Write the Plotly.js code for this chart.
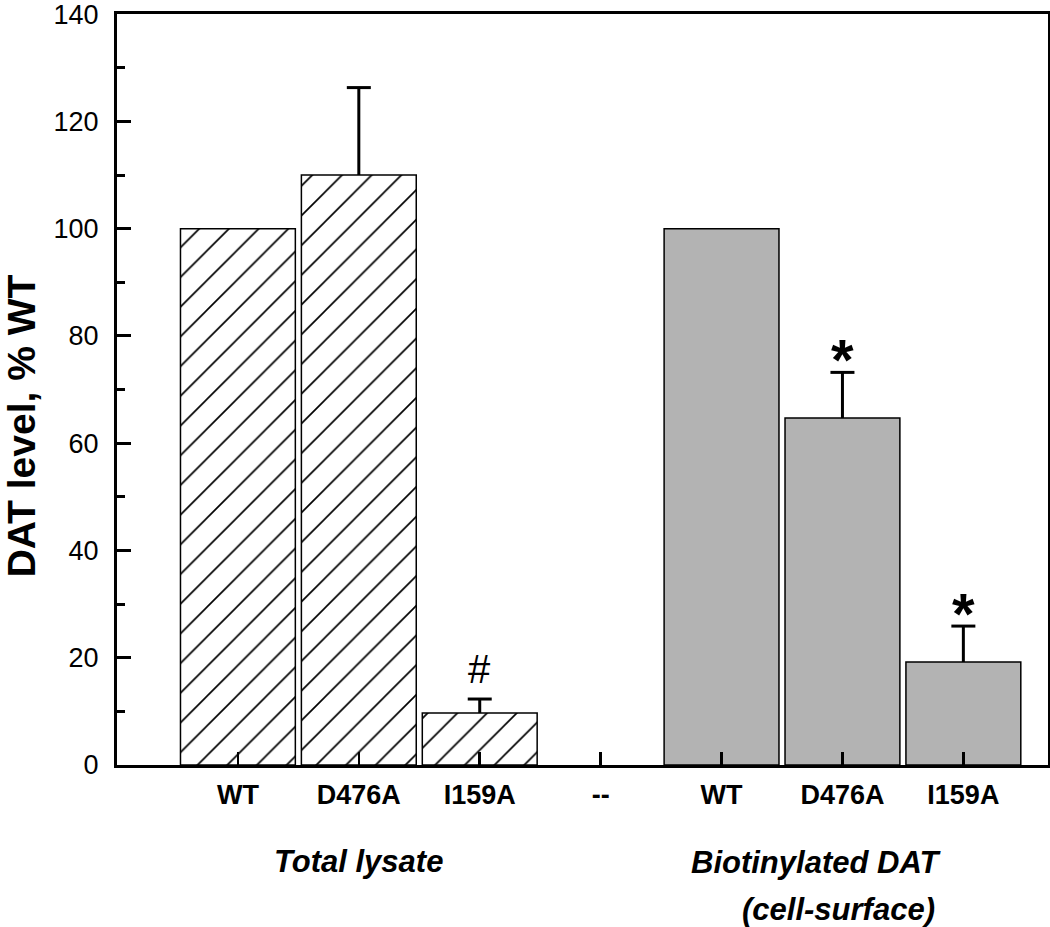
<!DOCTYPE html>
<html>
<head>
<meta charset="utf-8">
<script src="https://cdn.plot.ly/plotly-3.0.1.min.js"></script>
<style>html,body{margin:0;padding:0;background:#fff;}#chart{width:1050px;height:927px;}</style>
</head>
<body>
<div id="chart"></div>
<script>
// Data
const categories = ['WT', 'D476A', 'I159A', '--', 'WT', 'D476A', 'I159A'];
const lysateLabels = ['WT', 'D476A', 'I159A'];
const lysateValues = [100, 110, 9.7];
const lysateErrors = [0, 16.3, 2.6];
const surfaceLabels = ['WT', 'D476A', 'I159A'];
const surfaceValues = [100, 64.7, 19.2];
const surfaceErrors = [0, 8.5, 6.7];
const lysateMarks = ['', '', '#'];
const surfaceMarks = ['', '*', '*'];
const groupLabels = ['Total lysate', 'Biotinylated DAT', '(cell-surface)'];
const yTicks = [0, 20, 40, 60, 80, 100, 120, 140];
const yTitle = 'DAT level, % WT';

const catPos = categories.map((c, i) => i + 1);
const lysateX = lysateLabels.map((c, i) => catPos[i]);
const surfaceX = surfaceLabels.map((c, i) => catPos[i + 4]);

const FONT = 'Liberation Sans, Arial, Helvetica, sans-serif';

const traces = [
  {
    type: 'bar', x: lysateX, y: lysateValues, width: 0.95,
    marker: {
      color: 'white',
      line: {color: 'black', width: 1.5},
      pattern: {shape: '/', size: 21, solidity: 0.08, fgcolor: 'black', bgcolor: 'white', fillmode: 'replace'}
    },
    hoverinfo: 'skip', showlegend: false
  },
  {
    type: 'bar', x: surfaceX, y: surfaceValues, width: 0.95,
    marker: {color: '#b3b3b3', line: {color: 'black', width: 1.5}},
    hoverinfo: 'skip', showlegend: false
  }
];

// Upper-only error bars (stem + cap) built from the data arrays
const shapes = [];
function addErr(xs, vals, errs) {
  xs.forEach((x, i) => {
    if (!errs[i]) return;
    const top = vals[i] + errs[i];
    shapes.push({type: 'line', xref: 'x', yref: 'y', x0: x, x1: x, y0: vals[i], y1: top,
      line: {color: 'black', width: 3}});
    shapes.push({type: 'line', xref: 'x', yref: 'y', xsizemode: 'pixel', xanchor: x, x0: -12, x1: 12,
      y0: top, y1: top, line: {color: 'black', width: 3}});
  });
}
addErr(lysateX, lysateValues, lysateErrors);
addErr(surfaceX, surfaceValues, surfaceErrors);

const annotations = [];
lysateMarks.forEach((m, i) => {
  if (!m) return;
  annotations.push({x: lysateX[i], y: lysateValues[i] + lysateErrors[i], xref: 'x', yref: 'y',
    text: m, showarrow: false, yanchor: 'bottom', yshift: 6,
    font: {family: FONT, size: 40, color: 'black'}});
});
surfaceMarks.forEach((m, i) => {
  if (!m) return;
  annotations.push({x: surfaceX[i], y: surfaceValues[i] + surfaceErrors[i], xref: 'x', yref: 'y',
    text: m, showarrow: false, yanchor: 'bottom', yshift: -22,
    font: {family: FONT, size: 58, color: 'black', weight: 'bold'}});
});
const gFont = {family: FONT, size: 31, color: 'black', weight: 'bold', style: 'italic'};
annotations.push({x: catPos[1], y: -0.128, xref: 'x', yref: 'paper', text: groupLabels[0],
  showarrow: false, yanchor: 'middle', font: gFont});
annotations.push({x: catPos[5] - 0.22, y: -0.13, xref: 'x', yref: 'paper', text: groupLabels[1],
  showarrow: false, yanchor: 'middle', font: gFont});
annotations.push({x: catPos[5] - 0.03, y: -0.193, xref: 'x', yref: 'paper', text: groupLabels[2],
  showarrow: false, yanchor: 'middle', font: gFont});
annotations.push({x: -0.1031, y: 0.451, xref: 'paper', yref: 'paper', text: yTitle, textangle: -90,
  showarrow: false, xanchor: 'center', yanchor: 'middle',
  font: {family: FONT, size: 39, color: 'black', weight: 'bold'}});

const layout = {
  width: 1050, height: 927,
  margin: {l: 117, r: 2, t: 14, b: 162, pad: 0},
  paper_bgcolor: 'white', plot_bgcolor: 'white',
  barmode: 'overlay',
  xaxis: {
    range: [0, 7.7], tickmode: 'array', tickvals: catPos, ticktext: categories,
    ticks: 'inside', ticklen: 13, tickwidth: 2.5, tickcolor: 'black',
    showline: true, linecolor: 'black', linewidth: 3, mirror: true,
    showgrid: false, zeroline: false, ticklabelstandoff: 4,
    tickfont: {family: FONT, size: 27, color: 'black', weight: 'bold'}
  },
  yaxis: {
    range: [0, 140.02], tickmode: 'array', tickvals: yTicks,
    ticks: 'inside', ticklen: 14, tickwidth: 3, tickcolor: 'black',
    minor: {dtick: 10, ticks: 'inside', ticklen: 8, tickwidth: 3, tickcolor: 'black', showgrid: false},
    showline: true, linecolor: 'black', linewidth: 3, mirror: true,
    showgrid: false, zeroline: false, ticklabelstandoff: 10, ticklabeloverflow: 'allow',
    tickfont: {family: FONT, size: 27, color: 'black'}
  },
  shapes: shapes,
  annotations: annotations
};

Plotly.newPlot('chart', traces, layout, {staticPlot: true, displayModeBar: false});
</script>
</body>
</html>
